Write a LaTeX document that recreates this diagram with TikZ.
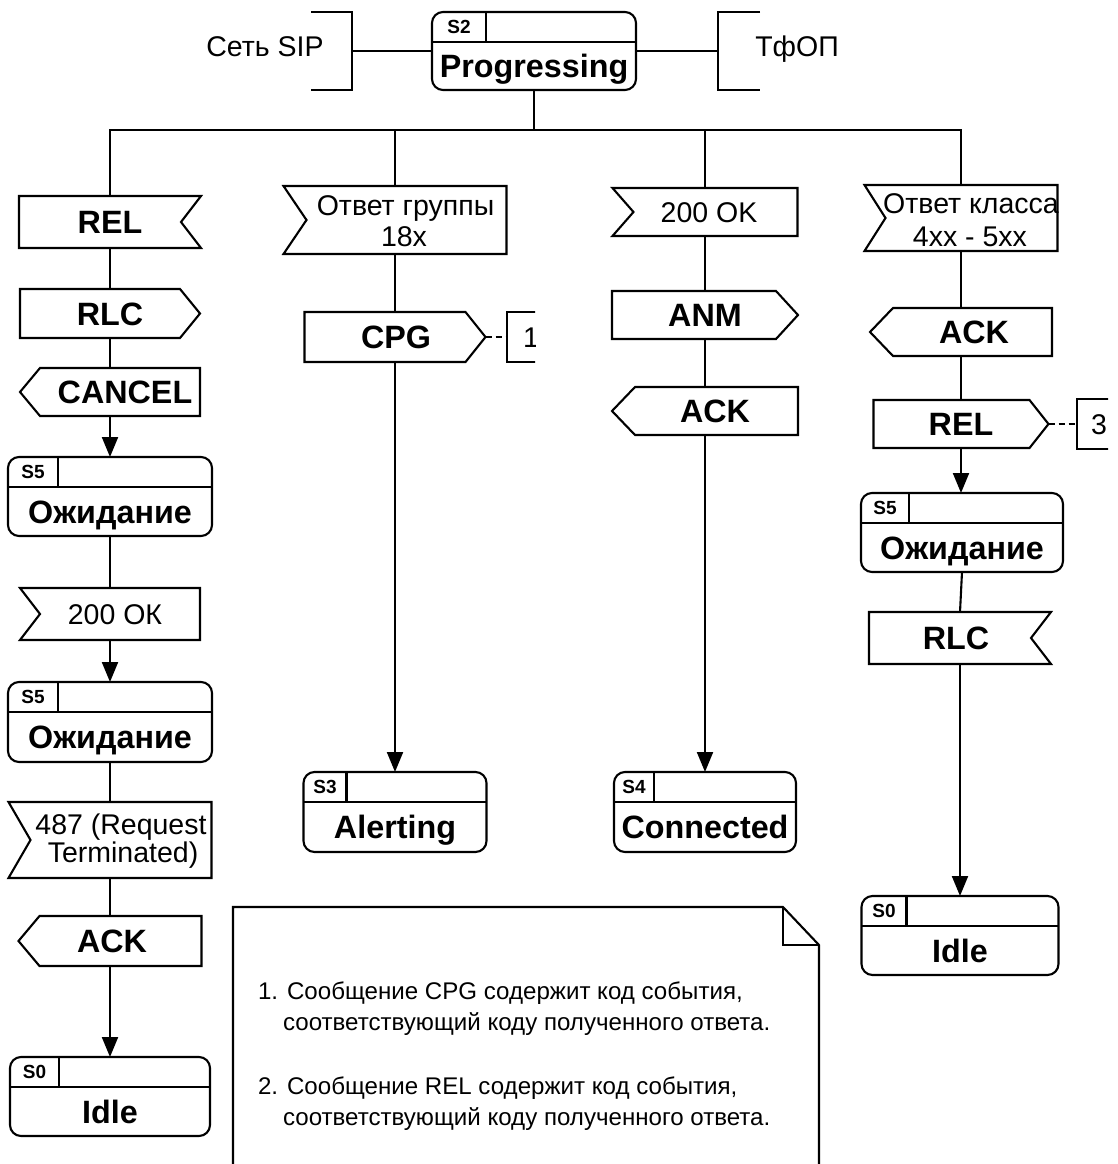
\documentclass[tikz,border=0pt]{standalone}
\usepackage{fontspec}
\setmainfont{Liberation Sans}
\usetikzlibrary{calc,arrows.meta}
\newcommand\fbig{\fontsize{32.3}{35}\selectfont\bfseries}
\newcommand\fsig{\fontsize{28.5}{30}\selectfont}
\newcommand\fid{\fontsize{19}{21}\selectfont\bfseries}
\newcommand\fnote{\fontsize{24.1}{27}\selectfont}
\newcommand\shpOR[2]{\draw (#1.north west) -- ([xshift=-#2pt]#1.north east) -- (#1.east) -- ([xshift=-#2pt]#1.south east) -- (#1.south west) -- cycle;}
\newcommand\shpOL[2]{\draw (#1.west) -- ([xshift=#2pt]#1.north west) -- (#1.north east) -- (#1.south east) -- ([xshift=#2pt]#1.south west) -- cycle;}
\newcommand\shpIR[2]{\draw (#1.north west) -- (#1.north east) -- ([xshift=-#2pt]#1.east) -- (#1.south east) -- (#1.south west) -- cycle;}
\newcommand\shpIL[2]{\draw (#1.north west) -- (#1.north east) -- (#1.south east) -- (#1.south west) -- ([xshift=#2pt]#1.west) -- cycle;}
\newcommand\stbox[8]{%
  \node[shp, minimum width=#4pt, minimum height=#5pt, anchor=north] (#1) at (#2,#3) {};
  \draw[rounded corners=11pt] (#1.north west) rectangle (#1.south east);
  \draw ($(#1.north west)+(0,30)$) -- ($(#1.north east)+(0,30)$);
  \draw ($(#1.north west)+(#6,0)$) -- ($(#1.north west)+(#6,30)$);
  \node[idf] (#1id) at ($(#1.north west)+({#6/2},15)$) {#7};
  \node[bl] (#1nm) at ($(#1.north)+(0,{15+#5/2})$) {#8};
}
\begin{document}
\begin{tikzpicture}[x=1pt,y=-1pt,line width=2.1pt,
  shp/.style={draw=none,inner sep=0pt,outer sep=0pt},
  bl/.style={inner sep=0pt,font=\fbig,text height=23.1pt,text depth=0pt},
  rg/.style={inner sep=0pt,font=\fsig,text height=20.4pt,text depth=0pt},
  idf/.style={inner sep=0pt,font=\fid,text height=13.6pt,text depth=0pt},
  nt/.style={inner sep=0pt,font=\fnote,anchor=base west},
  arr/.style={-{Triangle[length=20pt,width=16pt]}},
  dsh/.style={line width=1.6pt,dash pattern=on 6pt off 4pt}]
\useasboundingbox (0,0) rectangle (1118,1164);

% ---------- top ----------
\stbox{s2}{534}{12}{204}{78}{54}{S2}{Progressing}
\node[rg] (sip) at (265,46) {Сеть SIP};
\node[rg] (tfop) at (797,46) {ТфОП};
\draw (311,12) -- (352,12) -- (352,90) -- (311,90);
\coordinate (sipb) at (352,51);
\draw (760,12) -- (718,12) -- (718,90) -- (760,90);
\coordinate (tfb) at (718,51);
\coordinate (bus) at (534,130);

% ---------- column 1 ----------
\node[shp,minimum width=182pt,minimum height=52pt] (rel1) at (110,222) {};
\shpIR{rel1}{20}
\node[bl] (rel1t) at (rel1) {REL};

\node[shp,minimum width=180pt,minimum height=49pt] (rlc1) at (110,313.5) {};
\shpOR{rlc1}{20}
\node[bl] (rlc1t) at (rlc1) {RLC};

\node[shp,minimum width=180pt,minimum height=48pt] (cancel) at (110,392) {};
\shpOL{cancel}{20}
\node[bl] (cancelt) at ($(cancel)+(15,0)$) {CANCEL};

\stbox{s5a}{110}{457}{204}{79}{50}{S5}{Ожидание}

\node[shp,minimum width=180pt,minimum height=52pt] (ok1) at (110,614) {};
\shpIL{ok1}{20}
\node[rg] (ok1t) at ($(ok1)+(5,0)$) {200 ОК};

\stbox{s5b}{110}{682}{204}{80}{50}{S5}{Ожидание}

\node[shp,minimum width=203pt,minimum height=76pt] (r487) at (110,840) {};
\shpIL{r487}{22}
\node[rg] (r487a) at (121,824) {487 (Request};
\node[rg] (r487b) at (123,852) {Terminated)};

\node[shp,minimum width=183pt,minimum height=50pt] (ack1) at (110,941) {};
\shpOL{ack1}{21}
\node[bl] (ack1t) at ($(ack1)+(2,0)$) {ACK};

\stbox{s0a}{110}{1057}{200}{79}{49}{S0}{Idle}

% ---------- column 2 ----------
\node[shp,minimum width=223pt,minimum height=68pt] (grp) at (395,220) {};
\shpIL{grp}{23}
\node[rg] (grpa) at (405.5,205) {Ответ группы};
\node[rg] (grpb) at (404,236) {18x};

\node[shp,minimum width=181pt,minimum height=50pt] (cpg) at (395,337) {};
\shpOR{cpg}{20}
\node[bl] (cpgt) at ($(cpg)+(1,0)$) {CPG};
\coordinate (c1a) at (507,337);
\begin{scope}
  \clip (500,300) rectangle (535,380);
  \draw (540,312) -- (507,312) -- (507,362) -- (540,362);
  \node[rg] (note1) at (531,337) {1};
\end{scope}

\stbox{s3}{395}{772}{183}{80}{43}{S3}{Alerting}

% ---------- column 3 ----------
\node[shp,minimum width=185pt,minimum height=48pt] (ok3) at (705,212) {};
\shpIL{ok3}{21}
\node[rg] (ok3t) at ($(ok3)+(4,0)$) {200 OK};

\node[shp,minimum width=186pt,minimum height=48pt] (anm) at (705,315) {};
\shpOR{anm}{22}
\node[bl] (anmt) at (anm) {ANM};

\node[shp,minimum width=186pt,minimum height=48pt] (ack3) at (705,411) {};
\shpOL{ack3}{23}
\node[bl] (ack3t) at ($(ack3)+(10,0)$) {ACK};

\stbox{s4}{705}{772}{182}{80}{40}{S4}{Connected}

% ---------- column 4 ----------
\node[shp,minimum width=193pt,minimum height=66pt] (cls) at (961,218) {};
\shpIL{cls}{21}
\node[rg] (clsa) at (971,203) {Ответ класса};
\node[rg] (clsb) at (970,236) {4xx - 5xx};

\node[shp,minimum width=182pt,minimum height=48pt] (ack4) at (961,332) {};
\shpOL{ack4}{23}
\node[bl] (ack4t) at ($(ack4)+(13,0)$) {ACK};

\node[shp,minimum width=175pt,minimum height=48pt] (rel4) at (961,424) {};
\shpOR{rel4}{19}
\node[bl] (rel4t) at (rel4) {REL};
\coordinate (c3a) at (1077,424);
\begin{scope}
  \clip (1070,390) rectangle (1108,460);
  \draw (1112,399) -- (1077,399) -- (1077,449) -- (1112,449);
  \node[rg] (note3) at (1099,424) {3};
\end{scope}

\stbox{s5c}{962}{493}{202}{79}{48}{S5}{Ожидание}

\node[shp,minimum width=182pt,minimum height=52pt] (rlc4) at (960,638) {};
\shpIR{rlc4}{20}
\node[bl] (rlc4t) at ($(rlc4)+(-4,0)$) {RLC};

\stbox{s0b}{960}{896}{197}{79}{45}{S0}{Idle}

% ---------- note ----------
\draw (233,1164) -- (233,907) -- (783,907) -- (819,945) -- (819,1164);
\draw (783,907) -- (783,945) -- (819,945);
\node[nt] (nl1) at (257,999) {1. Сообщение CPG содержит код события,};
\node[nt] (nl2) at (282,1030) {соответствующий коду полученного ответа.};
\node[nt] (nl3) at (257,1094) {2. Сообщение REL содержит код события,};
\node[nt] (nl4) at (282,1125) {соответствующий коду полученного ответа.};

% ---------- connectors ----------
\draw (sipb) -- (s2.west);
\draw (s2.east) -- (tfb);
\draw (s2.south) -- (bus);
\draw (rel1.north) |- (bus) -| (cls.north);
\draw (grp.north) -- (grp.north |- bus);
\draw (ok3.north) -- (ok3.north |- bus);

\draw (rel1.south) -- (rlc1.north);
\draw (rlc1.south) -- (cancel.north);
\draw[arr] (cancel.south) -- (s5a.north);
\draw (s5a.south) -- (ok1.north);
\draw[arr] (ok1.south) -- (s5b.north);
\draw (s5b.south) -- (r487.north);
\draw (r487.south) -- (ack1.north);
\draw[arr] (ack1.south) -- (s0a.north);

\draw (grp.south) -- (cpg.north);
\draw[arr] (cpg.south) -- (s3.north);
\draw[dsh] (cpg.east) -- (c1a);

\draw (ok3.south) -- (anm.north);
\draw (anm.south) -- (ack3.north);
\draw[arr] (ack3.south) -- (s4.north);

\draw (cls.south) -- (ack4.north);
\draw (ack4.south) -- (rel4.north);
\draw[arr] (rel4.south) -- (rel4.south |- s5c.north);
\draw[dsh] (rel4.east) -- (c3a);
\draw (s5c.south) -- (rlc4.north);
\draw[arr] (rlc4.south) -- (rlc4.south |- s0b.north);
\end{tikzpicture}
\end{document}
